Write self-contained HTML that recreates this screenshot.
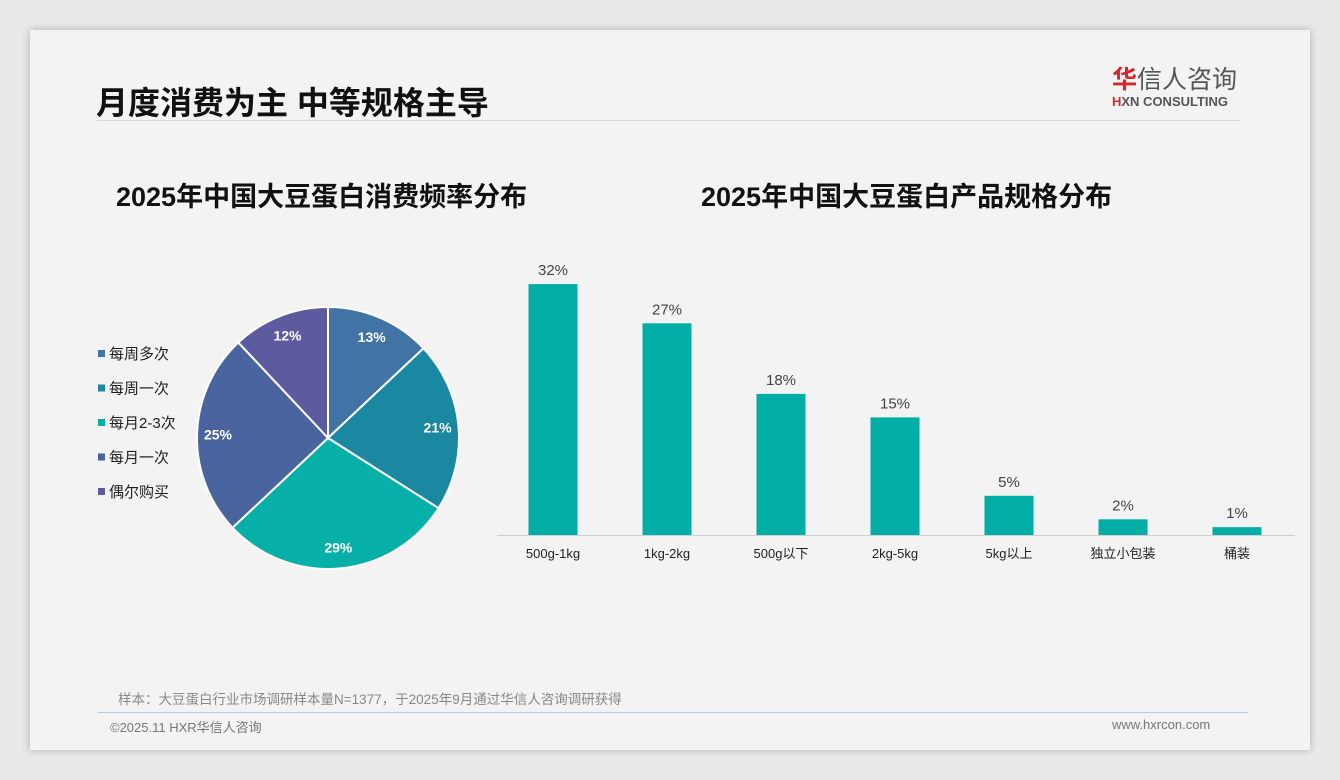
<!DOCTYPE html>
<html><head><meta charset="utf-8">
<style>
body{margin:0;width:1340px;height:780px;background:#e9e9e9;font-family:"Liberation Sans","Noto Sans CJK SC",sans-serif;overflow:hidden}
#card{position:absolute;left:30px;top:30px;width:1280px;height:720px;background:#f3f3f3;box-shadow:0 0 8px rgba(0,0,0,.25)}
.abs{position:absolute;white-space:nowrap}
</style></head><body>
<div id="card">
<div class="abs" style="left:66px;top:48px;font-size:32px;font-weight:bold;color:#111">月度消费为主 中等规格主导</div>
<div class="abs" style="left:1082px;top:37px;font-size:25px;color:#555;line-height:26px"><span style="color:#d6262c;font-weight:bold">华</span>信人咨询</div>
<div class="abs" style="left:1082px;top:65px;font-size:13px;font-weight:bold;color:#555;line-height:14px"><span style="color:#d6262c">H</span>XN CONSULTING</div>
<div class="abs" style="left:67px;top:90px;width:1143px;height:1px;background:#d8d8d8"></div>
<div class="abs" style="left:86px;top:145px;font-size:27px;font-weight:bold;color:#111">2025年中国大豆蛋白消费频率分布</div>
<div class="abs" style="left:671px;top:145px;font-size:27px;font-weight:bold;color:#111">2025年中国大豆蛋白产品规格分布</div>
<div class="abs" style="left:88px;top:658px;font-size:13.5px;color:#888">样本：大豆蛋白行业市场调研样本量N=1377，于2025年9月通过华信人咨询调研获得</div>
<div class="abs" style="left:68px;top:682px;width:1150px;height:1px;background:#b9cbdc"></div>
<div class="abs" style="left:80px;top:687px;font-size:13px;color:#777">©2025.11 HXR华信人咨询</div>
<div class="abs" style="left:1082px;top:687px;font-size:13px;color:#777">www.hxrcon.com</div>
</div>
<svg id="chart" width="1340" height="780" style="position:absolute;left:0;top:0"></svg>
<script>
const pieCats=["每周多次","每周一次","每月2-3次","每月一次","偶尔购买"];
const pieVals=[13,21,29,25,12];
const pieColors=["#4174a4","#1a88a0","#06b0a8","#4a64a0","#5d5ba0"];
const barCats=["500g-1kg","1kg-2kg","500g以下","2kg-5kg","5kg以上","独立小包装","桶装"];
const barVals=[32,27,18,15,5,2,1];
const NS="http://www.w3.org/2000/svg";
const svg=document.getElementById('chart');
function mk(t,a,txt){const e=document.createElementNS(NS,t);for(const k in a)e.setAttribute(k,a[k]);if(txt!=null)e.textContent=txt;svg.appendChild(e);return e;}
// pie
const cx=328,cy=438,r=131;
const tot=pieVals.reduce((a,b)=>a+b,0);
let ang=0;
pieVals.forEach((v,i)=>{
 const a0=ang,a1=ang+v/tot*2*Math.PI;ang=a1;
 const p=a=>[cx+r*Math.sin(a),cy-r*Math.cos(a)];
 const [x0,y0]=p(a0),[x1,y1]=p(a1);
 const s=mk('path',{d:`M${cx},${cy}L${x0},${y0}A${r},${r} 0 ${a1-a0>Math.PI?1:0} 1 ${x1},${y1}Z`,fill:pieColors[i],stroke:'#fff','stroke-width':2});
 
 
 const m=(a0+a1)/2,lr=r*0.84;
 const t=mk('text',{x:cx+lr*Math.sin(m),y:cy-lr*Math.cos(m)+5,'text-anchor':'middle','font-size':14,'font-weight':'bold',fill:'#fff'},v+'%');
 
 
 const ly=354+i*34.5;
 const lm=mk('rect',{x:98,y:ly-4,width:7,height:7,fill:pieColors[i]});
 
 
 const lt=mk('text',{x:109,y:ly+5,'font-size':15,fill:'#222'},pieCats[i]);
 
 
});
// bars
const base=535,scale=7.84,x0=553,step=114,bw=49;
const ax=mk('line',{x1:497,x2:1295,y1:base+0.5,y2:base+0.5,stroke:'#d0d0d0'});


barVals.forEach((v,i)=>{
 const cxb=x0+i*step,h=v*scale;
 const b=mk('rect',{x:cxb-bw/2,y:base-h,width:bw,height:h,fill:'#00aea6'});
 
 
 const t=mk('text',{x:cxb,y:base-h-9,'text-anchor':'middle','font-size':15,fill:'#444'},v+'%');
 
 
 const c=mk('text',{x:cxb,y:base+23,'text-anchor':'middle','font-size':13,fill:'#222'},barCats[i]);
 
 
});
</script>
</body></html>
